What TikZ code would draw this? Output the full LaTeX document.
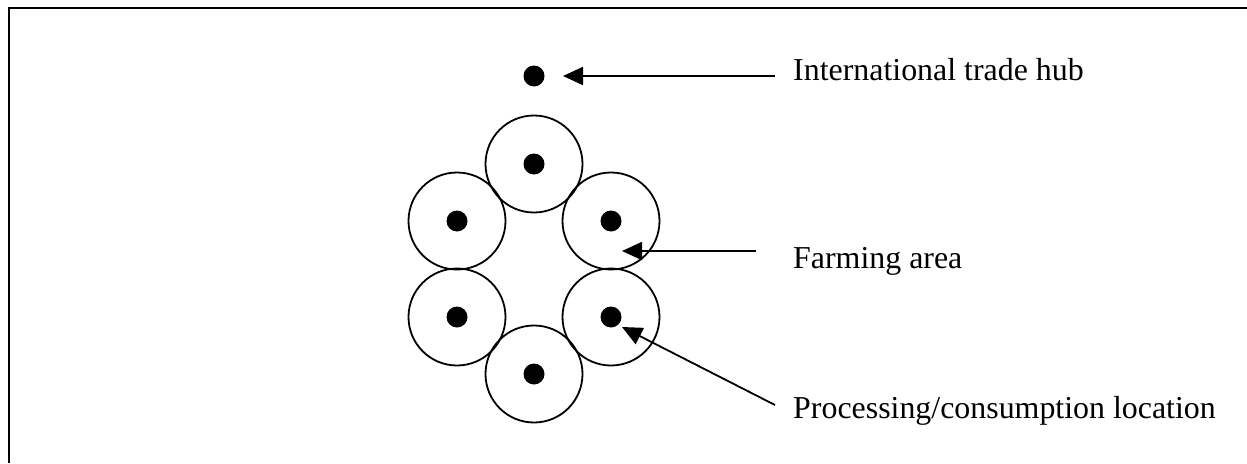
\documentclass[tikz,border=0pt]{standalone}
\usepackage{fontspec}
\setmainfont{Liberation Serif}
\usetikzlibrary{arrows.meta}
\begin{document}
\begin{tikzpicture}[x=1pt, y=-1pt,
    area/.style={draw, circle, line width=1.8pt, minimum size=97pt, inner sep=0pt},
    town/.style={fill, circle, minimum size=21pt, inner sep=0pt},
    lbl/.style={anchor=base west, inner sep=0pt, font=\fontsize{31.9}{38}\selectfont},
    pointer/.style={-{Triangle[length=20pt, width=18pt]}, line width=1.8pt}]
    \useasboundingbox (0, 0) rectangle (1247, 463);
    \draw[line width=2.6pt] (9, 463) -- (9, 8) -- (1247, 8);
    % hub
    \node[town] (hub) at (534, 76) {};
    % farming areas round the hub
    \node[area] (top)  at (534, 164) {};
    \node[area] (ul)   at (457, 221) {};
    \node[area] (ur)   at (611, 221) {};
    \node[area] (ll)   at (457, 317) {};
    \node[area] (lr)   at (611, 317) {};
    \node[area] (bot)  at (534, 374) {};
    \foreach \c in {top, ul, ur, ll, lr, bot}
        \node[town] (\c-dot) at (\c) {};
    % labels
    \node[lbl] (hubtxt)  at (793, 80)  {International trade hub};
    \node[lbl] (farmtxt) at (793, 268) {Farming area};
    \node[lbl] (proctxt) at (793, 418) {Processing/consumption location};
    \coordinate (hubend)  at (775, 76);
    \coordinate (farmend) at (756, 251);
    \coordinate (procend) at (775, 405);
    \coordinate (hubtip)  at (563, 76);
    \coordinate (farmtip) at (622, 251);
    \coordinate (proctip) at (622, 327);
    \draw[pointer] (hubend)  -- (hubtip);
    \draw[pointer] (farmend) -- (farmtip);
    \draw[pointer] (procend) -- (proctip);
\end{tikzpicture}
\end{document}
